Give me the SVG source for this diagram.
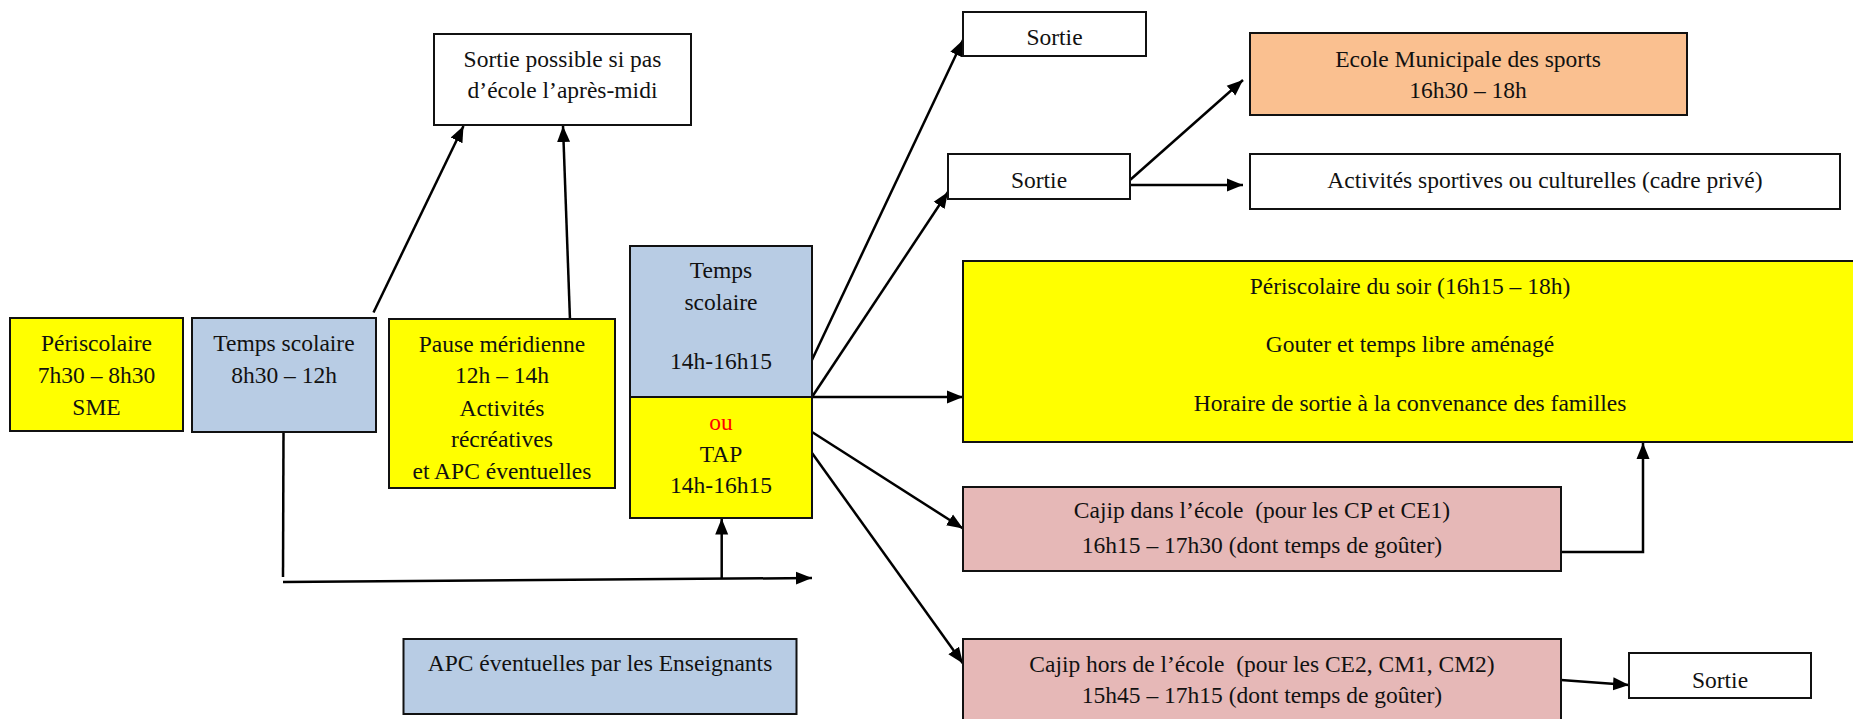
<svg xmlns="http://www.w3.org/2000/svg" width="1853" height="719" viewBox="0 0 1853 719">
<style>
text{font-family:"Liberation Serif","Times New Roman",serif;font-size:23.5px;fill:#111;text-anchor:middle;white-space:pre}
.box{stroke:#111;stroke-width:2}
.w{fill:#fff}.y{fill:#ffff00}.b{fill:#b8cce4}.p{fill:#e6b8b7}.o{fill:#fac090}
.c{stroke:#000;stroke-width:2.5;fill:none}
.a{marker-end:url(#ah)}
.red{fill:#ff0000}
</style>
<defs>
<marker id="ah" markerUnits="userSpaceOnUse" markerWidth="17" markerHeight="14" refX="16" refY="7" orient="auto">
<path d="M0,0.5 L16,7 L0,13.5 z" fill="#000"/>
</marker>
</defs>
<rect width="1853" height="719" fill="#fff"/>
<g id="connectors">
<line class="c a" x1="373.5" y1="312.5" x2="463.5" y2="126"/>
<line class="c a" x1="570" y1="320" x2="563" y2="126"/>
<line class="c" x1="283.5" y1="432" x2="283" y2="577"/>
<line class="c a" x1="283" y1="582" x2="812" y2="578"/>
<line class="c a" x1="721.7" y1="578.5" x2="721.7" y2="518.5"/>
<line class="c a" x1="811" y1="362" x2="963" y2="40"/>
<line class="c a" x1="812" y1="397" x2="948" y2="192"/>
<line class="c a" x1="812" y1="397" x2="963" y2="397"/>
<line class="c a" x1="812" y1="432" x2="963" y2="528.5"/>
<line class="c a" x1="812" y1="453" x2="963" y2="663.5"/>
<line class="c a" x1="1130" y1="180" x2="1243" y2="80"/>
<line class="c a" x1="1130" y1="185" x2="1243" y2="185"/>
<polyline class="c a" points="1561,552 1643,552 1643,443"/>
<line class="c a" x1="1561" y1="680" x2="1629" y2="685"/>
</g>
<g id="periscolaire-matin">
<rect class="box y" x="10" y="318" width="173" height="113"/>
<text x="96.5" y="350.7">Périscolaire</text>
<text x="96.5" y="383.3">7h30 – 8h30</text>
<text x="96.5" y="415">SME</text>
</g>
<g id="temps-scolaire-matin">
<rect class="box b" x="192" y="318" width="184" height="114"/>
<text x="284" y="350.7">Temps scolaire</text>
<text x="284" y="383.3">8h30 – 12h</text>
</g>
<g id="pause-meridienne">
<rect class="box y" x="389" y="319" width="226" height="169"/>
<text x="502" y="351.7">Pause méridienne</text>
<text x="502" y="383.3">12h – 14h</text>
<text x="502" y="415.7">Activités</text>
<text x="502" y="447.3">récréatives</text>
<text x="502" y="479.3">et APC éventuelles</text>
</g>
<g id="sortie-possible">
<rect class="box w" x="434" y="34" width="257" height="91"/>
<text x="562.5" y="66.7">Sortie possible si pas</text>
<text x="562.5" y="98.3">d’école l’après-midi</text>
</g>
<g id="temps-scolaire-aprem">
<rect class="box b" x="630" y="246" width="182" height="151"/>
<text x="721" y="278.3">Temps</text>
<text x="721" y="310">scolaire</text>
<text x="721" y="369.3">14h-16h15</text>
</g>
<g id="tap">
<rect class="box y" x="630" y="397" width="182" height="121"/>
<text x="721" y="430" class="red">ou</text>
<text x="721" y="461.7">TAP</text>
<text x="721" y="492.7">14h-16h15</text>
</g>
<g id="apc">
<rect class="box b" x="403.5" y="639" width="393" height="75"/>
<text x="600" y="670.5">APC éventuelles par les Enseignants</text>
</g>
<g id="sortie-1">
<rect class="box w" x="963" y="12" width="183" height="44"/>
<text x="1054.5" y="45">Sortie</text>
</g>
<g id="sortie-2">
<rect class="box w" x="948" y="154" width="182" height="45"/>
<text x="1039" y="187.7">Sortie</text>
</g>
<g id="ecole-municipale">
<rect class="box o" x="1250" y="33" width="437" height="82"/>
<text x="1468" y="66.7">Ecole Municipale des sports</text>
<text x="1468" y="98.3">16h30 – 18h</text>
</g>
<g id="activites">
<rect class="box w" x="1250" y="154" width="590" height="55"/>
<text x="1545" y="188.3">Activités sportives ou culturelles (cadre privé)</text>
</g>
<g id="periscolaire-soir">
<rect class="box y" x="963" y="261" width="900" height="181"/>
<text x="1410" y="294">Périscolaire du soir (16h15 – 18h)</text>
<text x="1410" y="352">Gouter et temps libre aménagé</text>
<text x="1410" y="411">Horaire de sortie à la convenance des familles</text>
</g>
<g id="cajip-dans">
<rect class="box p" x="963" y="487" width="598" height="84"/>
<text x="1262" y="518.3">Cajip dans l’école  (pour les CP et CE1)</text>
<text x="1262" y="553.3">16h15 – 17h30 (dont temps de goûter)</text>
</g>
<g id="cajip-hors">
<rect class="box p" x="963" y="639" width="598" height="90"/>
<text x="1262" y="671.7">Cajip hors de l’école  (pour les CE2, CM1, CM2)</text>
<text x="1262" y="703.3">15h45 – 17h15 (dont temps de goûter)</text>
</g>
<g id="sortie-3">
<rect class="box w" x="1629" y="653" width="182" height="45"/>
<text x="1720" y="688.3">Sortie</text>
</g>
</svg>
